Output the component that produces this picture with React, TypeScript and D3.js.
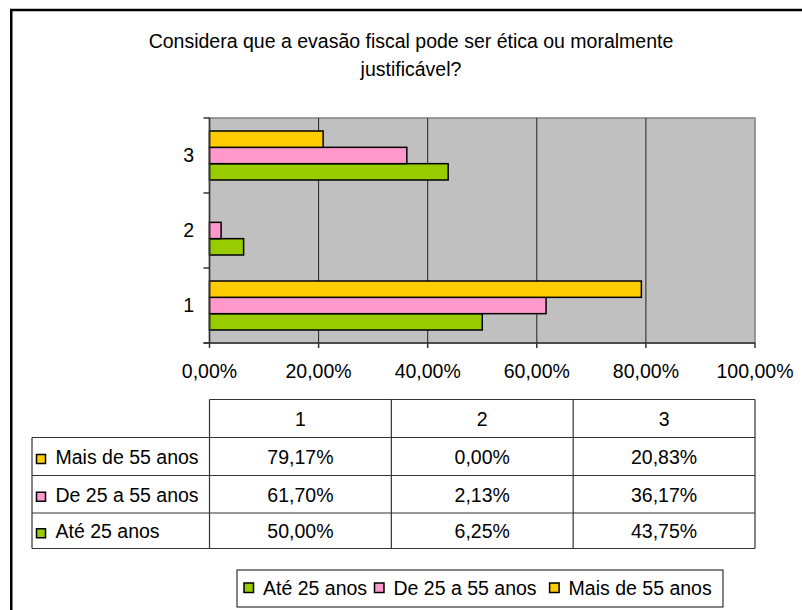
import React from "react";
import * as d3 from "d3";

const categories = ["1", "2", "3"];
const seriesNames = ["Até 25 anos", "De 25 a 55 anos", "Mais de 55 anos"];
const ate25 = [50.0, 6.25, 43.75];
const de25a55 = [61.7, 2.13, 36.17];
const mais55 = [79.17, 0.0, 20.83];
const seriesColors = ["#99CC00", "#FF99CC", "#FFCC00"];
const xTicks = [0, 20, 40, 60, 80, 100];
const title1 = "Considera que a evasão fiscal pode ser ética ou moralmente";
const title2 = "justificável?";

const W = 802;
const H = 610;
const FONT = "'Liberation Sans', Arial, sans-serif";
const FS = 19.5;

const fmt = (v: number) => d3.format(".2f")(v).replace(".", ",") + "%";

export default function App() {
  const series = [ate25, de25a55, mais55];
  const x = d3.scaleLinear().domain([0, 100]).range([209.5, 755]);
  const y = d3.scaleBand().domain(["3", "2", "1"]).range([118, 343]).padding(0);
  const bw = y.bandwidth();
  const inner = d3
    .scaleBand()
    .domain(["2", "1", "0"])
    .range([13, bw - 13])
    .padding(0);
  const plotTop = 118;
  const plotBottom = 343;
  const plotLeft = x(0);
  const plotRight = x(100);

  // table
  const col = d3.scaleBand().domain(categories).range([plotLeft, plotRight]);
  const rowLines = [399.5, 437.5, 475.5, 513, 548.5];
  const tableLeft = 32;
  const tableRows = [2, 1, 0];

  // legend
  const legX = 237;
  const legY = 570;
  const legW = 486;
  const legH = 37;

  return (
    <svg
      width={W}
      height={H}
      style={{ position: "absolute", left: 0, top: 0, display: "block" }}
      fontFamily={FONT}
    >
      <rect x={0} y={0} width={W} height={H} fill="#fff" />
      <rect x={11.25} y={10} width={900} height={900} fill="none" stroke="#000" strokeWidth={2.5} />

      {/* title */}
      <text x={411} y={48} textAnchor="middle" fontSize={FS} fill="#000">
        {title1}
      </text>
      <text x={411} y={75.5} textAnchor="middle" fontSize={FS} fill="#000">
        {title2}
      </text>

      {/* plot area */}
      <rect
        x={plotLeft}
        y={plotTop}
        width={plotRight - plotLeft}
        height={plotBottom - plotTop}
        fill="#C0C0C0"
        stroke="#808080"
        strokeWidth={1.5}
      />
      {xTicks.slice(1, -1).map((t) => (
        <line key={t} x1={x(t)} x2={x(t)} y1={plotTop} y2={plotBottom} stroke="#222" strokeWidth={1} />
      ))}

      {/* bars */}
      {categories.map((c, ci) =>
        series.map((s, si) =>
          s[ci] > 0 ? (
            <rect
              key={c + si}
              x={x(0)}
              y={(y(c) as number) + (inner(String(si)) as number)}
              width={x(s[ci]) - x(0)}
              height={inner.bandwidth()}
              fill={seriesColors[si]}
              stroke="#000"
              strokeWidth={1.5}
            />
          ) : null
        )
      )}

      {/* axes */}
      <line x1={plotLeft} x2={plotLeft} y1={plotTop} y2={plotBottom} stroke="#333" strokeWidth={1.5} />
      <line x1={plotLeft - 6} x2={plotRight} y1={plotBottom} y2={plotBottom} stroke="#333" strokeWidth={1.5} />
      {[...y.domain().map((d) => y(d) as number), plotBottom].map((v, i) => (
        <line key={"yt" + i} x1={plotLeft - 6} x2={plotLeft} y1={v} y2={v} stroke="#333" strokeWidth={1.5} />
      ))}
      {xTicks.map((t) => (
        <line key={"xt" + t} x1={x(t)} x2={x(t)} y1={plotBottom} y2={plotBottom + 5} stroke="#333" strokeWidth={1.5} />
      ))}
      {categories.map((c) => (
        <text
          key={"yl" + c}
          x={194}
          y={(y(c) as number) + bw / 2 + 6}
          textAnchor="end"
          fontSize={FS}
          fill="#000"
        >
          {c}
        </text>
      ))}
      {xTicks.map((t) => (
        <text key={"xl" + t} x={x(t)} y={378} textAnchor="middle" fontSize={FS} fill="#000">
          {fmt(t)}
        </text>
      ))}

      {/* data table */}
      <g stroke="#333" strokeWidth={1.2} fill="none">
        <line x1={plotLeft} x2={plotRight} y1={rowLines[0]} y2={rowLines[0]} />
        {rowLines.slice(1).map((r, i) => (
          <line key={"rl" + i} x1={tableLeft} x2={plotRight} y1={r} y2={r} />
        ))}
        <line x1={tableLeft} x2={tableLeft} y1={rowLines[1]} y2={rowLines[4]} />
        {[...categories.map((c) => col(c) as number), plotRight].map((cx, i) => (
          <line key={"cl" + i} x1={cx} x2={cx} y1={rowLines[0]} y2={rowLines[4]} />
        ))}
      </g>
      {categories.map((c) => (
        <text
          key={"th" + c}
          x={(col(c) as number) + col.bandwidth() / 2}
          y={(rowLines[0] + rowLines[1]) / 2 + 7}
          textAnchor="middle"
          fontSize={FS}
          fill="#000"
        >
          {c}
        </text>
      ))}
      {tableRows.map((si, ri) => {
        const cy = (rowLines[ri + 1] + rowLines[ri + 2]) / 2;
        return (
          <g key={"tr" + si}>
            <rect x={36.5} y={cy - 2} width={9} height={9} fill={seriesColors[si]} stroke="#000" strokeWidth={1.5} />
            <text x={55.5} y={cy + 7.5} fontSize={FS} fill="#000">
              {seriesNames[si]}
            </text>
            {categories.map((c, ci) => (
              <text
                key={"td" + c}
                x={(col(c) as number) + col.bandwidth() / 2}
                y={cy + 7.5}
                textAnchor="middle"
                fontSize={FS}
                fill="#000"
              >
                {fmt(series[si][ci])}
              </text>
            ))}
          </g>
        );
      })}

      {/* legend */}
      <rect x={legX} y={legY} width={legW} height={legH} fill="#fff" stroke="#333" strokeWidth={1.2} />
      {(() => {
        const widths = [104, 148.6, 143];
        let cx = 244;
        return seriesNames.map((n, i) => {
          const sx = cx;
          cx += 9.5 + 9.5 + widths[i] + 7.5;
          return (
            <g key={"lg" + i}>
              <rect x={sx} y={583} width={9.5} height={9.5} fill={seriesColors[i]} stroke="#000" strokeWidth={1.5} />
              <text x={sx + 19} y={595} fontSize={FS} fill="#000">
                {n}
              </text>
            </g>
          );
        });
      })()}
    </svg>
  );
}
